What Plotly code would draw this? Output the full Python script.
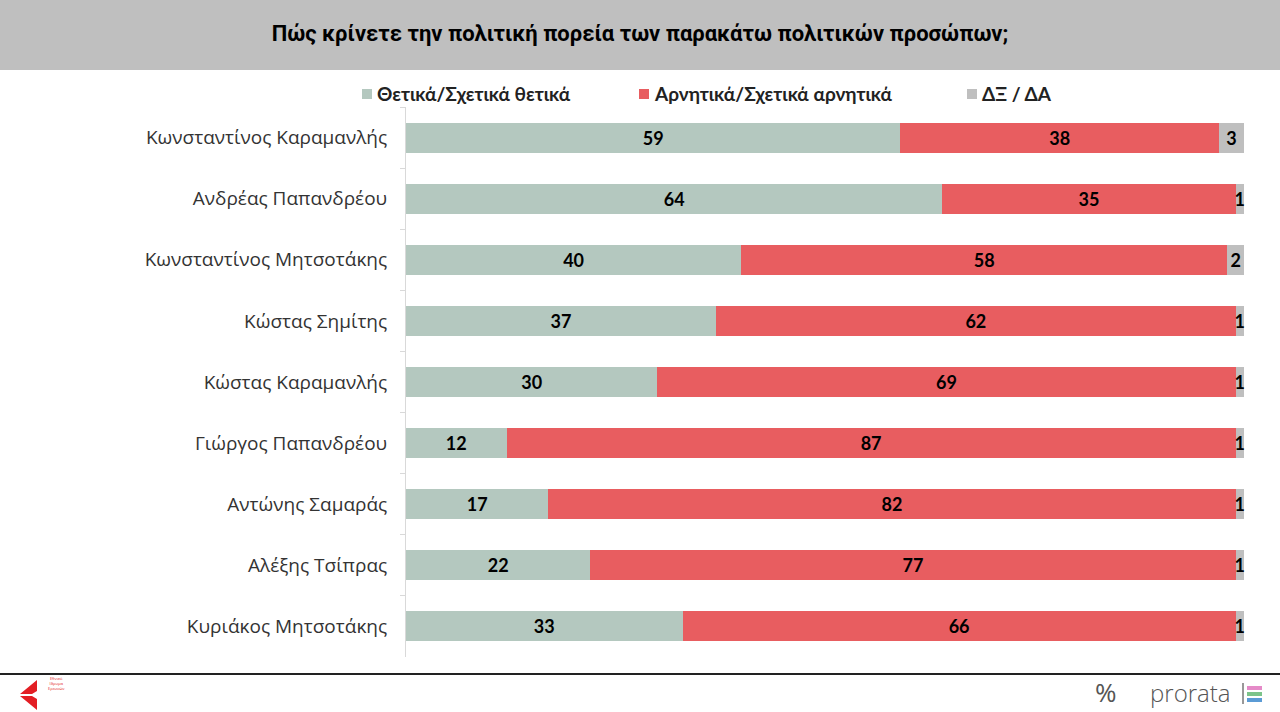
import plotly.graph_objects as go

# ── Data ──────────────────────────────────────────────────────────────────────
names = [
    "Κωνσταντίνος Καραμανλής",
    "Ανδρέας Παπανδρέου",
    "Κωνσταντίνος Μητσοτάκης",
    "Κώστας Σημίτης",
    "Κώστας Καραμανλής",
    "Γιώργος Παπανδρέου",
    "Αντώνης Σαμαράς",
    "Αλέξης Τσίπρας",
    "Κυριάκος Μητσοτάκης",
]
positive = [59, 64, 40, 37, 30, 12, 17, 22, 33]
negative = [38, 35, 58, 62, 69, 87, 82, 77, 66]
dkna = [3, 1, 2, 1, 1, 1, 1, 1, 1]

series_names = ["Θετικά/Σχετικά θετικά", "Αρνητικά/Σχετικά αρνητικά", "ΔΞ / ΔΑ"]
title_text = "Πώς κρίνετε την πολιτική πορεία των παρακάτω πολιτικών προσώπων;"

# ── Colours ───────────────────────────────────────────────────────────────────
GREEN = "#B4C8BF"
RED = "#E85D60"
GRAY = "#BFBFBF"
AXIS = "#D9D9D9"
COLORS = [GREEN, RED, GRAY]

W, H = 1280, 712
L, R, T, B = 406, 36, 107, 55
PW, PH = W - L - R, H - T - B


def px_x(p):
    return (p - L) / PW


def px_y(p):
    return 1 - (p - T) / PH


fig = go.Figure()
for vals, name, col in zip([positive, negative, dkna], series_names, COLORS):
    fig.add_trace(go.Bar(
        y=names, x=vals, name=name, orientation="h",
        marker=dict(color=col, line=dict(width=0)),
        text=vals, textposition="inside", insidetextanchor="middle",
        textfont=dict(family="Lato, sans-serif", size=18, color="black", weight="bold"),
        cliponaxis=False, showlegend=False,
    ))

fig.update_layout(
    width=W, height=H,
    barmode="stack", bargap=0.51,
    paper_bgcolor="white", plot_bgcolor="white",
    margin=dict(l=L, r=R, t=T, b=B),
    uniformtext=dict(mode="show", minsize=18),
    font=dict(family="Open Sans, sans-serif", color="#333333"),
    title=dict(text="<b>" + title_text + "</b>", x=0.5, xanchor="center",
               y=1 - 33 / H, yanchor="middle",
               font=dict(family="Roboto, sans-serif", size=22, color="black")),
)

fig.update_xaxes(range=[0, 100], visible=False, fixedrange=True)
fig.update_yaxes(autorange="reversed", showline=True, linecolor=AXIS, linewidth=1,
                 ticks="outside", tickson="boundaries", ticklen=5, tickcolor=AXIS,
                 ticklabelstandoff=14, showgrid=False, fixedrange=True,
                 tickfont=dict(family="Open Sans, sans-serif", size=19, color="#333333"))

# ── Legend (drawn by hand to match the spacing) ──────────────────────────────
legend_x = [362, 639, 967]
for lx, name, col in zip(legend_x, series_names, COLORS):
    fig.add_shape(type="rect", xref="paper", yref="paper",
                  x0=px_x(lx), x1=px_x(lx + 10), y0=px_y(99), y1=px_y(89),
                  fillcolor=col, line_width=0)
    fig.add_annotation(xref="paper", yref="paper", x=px_x(lx + 13), y=px_y(94),
                       text="<b>" + name + "</b>", showarrow=False,
                       xanchor="left", yanchor="middle",
                       font=dict(family="Lato, sans-serif", size=19, color="#222222"))

# ── Header band, footer line ─────────────────────────────────────────────────
fig.add_shape(type="rect", xref="paper", yref="paper", layer="below",
              x0=px_x(0), x1=px_x(W), y0=px_y(70), y1=px_y(0),
              fillcolor="#BFBFBF", line_width=0)
fig.add_shape(type="line", xref="paper", yref="paper",
              x0=px_x(0), x1=px_x(W), y0=px_y(674), y1=px_y(674),
              line=dict(color="#222222", width=2))

# ── Logos (approximate) ──────────────────────────────────────────────────────
fig.add_shape(type="path", xref="paper", yref="paper",
              xsizemode="pixel", ysizemode="pixel",
              xanchor=px_x(29), yanchor=px_y(695),
              path="M -9,-1 L 8,-15 L 8,-4 L 3,-1 Z M -9,1 L 8,15 L 8,4 L 3,1 Z",
              fillcolor="#E31E24", line_width=0)
fig.add_annotation(xref="paper", yref="paper", x=px_x(46), y=px_y(693),
                   text="Εθνικό<br>Ιδρυμα<br>Ερευνών", showarrow=False, xanchor="left",
                   font=dict(size=4, color="#E31E24"))
fig.add_annotation(xref="paper", yref="paper", x=px_x(1106), y=px_y(692),
                   text="%", showarrow=False, xanchor="center", yanchor="middle",
                   font=dict(family="Open Sans, sans-serif", size=26, color="#555555"))
fig.add_annotation(xref="paper", yref="paper", x=px_x(1148), y=px_y(692),
                   text="prorata", showarrow=False, xanchor="left", yanchor="middle",
                   font=dict(family="Open Sans, sans-serif", size=24, color="#555555", weight=300))
fig.add_shape(type="line", xref="paper", yref="paper",
              x0=px_x(1243), x1=px_x(1243), y0=px_y(683), y1=px_y(704),
              line=dict(color="#333333", width=1))
for dy, c in [(-6, "#E58AC8"), (0, "#7CC48A"), (6, "#5B9BD5")]:
    fig.add_shape(type="rect", xref="paper", yref="paper",
                  x0=px_x(1247), x1=px_x(1262), y0=px_y(694 + dy + 2), y1=px_y(694 + dy - 2),
                  fillcolor=c, line_width=0)

fig.write_html("out.html", config={"displayModeBar": False},
               post_script="document.body.style.margin='0';")
